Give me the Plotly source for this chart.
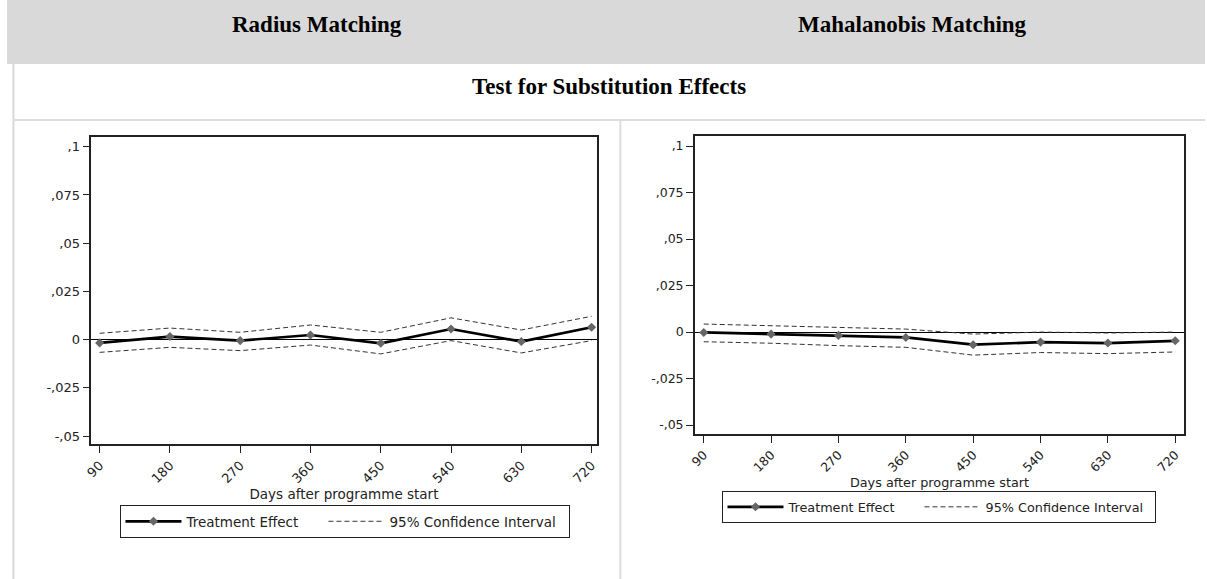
import plotly.graph_objects as go

days = [90, 180, 270, 360, 450, 540, 630, 720]
day_labels = ["90", "180", "270", "360", "450", "540", "630", "720"]

radius_te = [-0.0017, 0.0016, -0.0005, 0.0024, -0.0019, 0.0055, -0.0010, 0.0064]
radius_hi = [0.0033, 0.0060, 0.0038, 0.0076, 0.0038, 0.0113, 0.0050, 0.0121]
radius_lo = [-0.0066, -0.0040, -0.0057, -0.0028, -0.0074, -0.0005, -0.0069, -0.0005]

maha_te = [-0.0002, -0.0011, -0.0018, -0.0029, -0.0068, -0.0054, -0.0059, -0.0047]
maha_hi = [0.0043, 0.0034, 0.0027, 0.0016, -0.0011, 0.0000, -0.0005, 0.0000]
maha_lo = [-0.0052, -0.0060, -0.0073, -0.0082, -0.0124, -0.0110, -0.0116, -0.0107]

y_ticks = [0.1, 0.075, 0.05, 0.025, 0, -0.025, -0.05]
y_labels = [",1", ",075", ",05", ",025", "0", "-,025", "-,05"]

headers = ["Radius Matching", "Mahalanobis Matching"]
subtitle = "Test for Substitution Effects"
x_title = "Days after programme start"
te_name = "Treatment Effect"
ci_name = "95% Confidence Interval"

W, H = 1207, 579
SANS = "DejaVu Sans, Arial, sans-serif"
SERIF = "Liberation Serif, Times New Roman, serif"

def px(x):
    return x / W

def py(y):
    return 1 - y / H

fig = go.Figure()

panels = [
    dict(te=radius_te, hi=radius_hi, lo=radius_lo, xa="x", ya="y", leg="legend",
         box=(85, 594, 136.7, 444), xr=[79.4, 726.4], yr=[-0.0541, 0.1052],
         fs=13.5, tfs=13, lw=(132, 175), standoff=3, legxy=(341, 505)),
    dict(te=maha_te, hi=maha_hi, lo=maha_lo, xa="x2", ya="y2", leg="legend2",
         box=(693, 1186, 136, 434), xr=[78.1, 731.9], yr=[-0.0548, 0.1054],
         fs=12.8, tfs=12.5, lw=(126, 165), standoff=0, legxy=(939.5, 491)),
]

for p in panels:
    fig.add_trace(go.Scatter(x=days, y=p["te"], mode="lines+markers", name=te_name,
                             line=dict(color="black", width=2.7),
                             marker=dict(symbol="diamond", size=7, color="#666666"),
                             legendwidth=p["lw"][0],
                             xaxis=p["xa"], yaxis=p["ya"], legend=p["leg"]))
    fig.add_trace(go.Scatter(x=days, y=p["hi"], mode="lines", name=ci_name,
                             line=dict(color="#333333", width=1, dash="5px,3px"),
                             legendgroup="ci" + p["xa"], legendwidth=p["lw"][1],
                             xaxis=p["xa"], yaxis=p["ya"], legend=p["leg"]))
    fig.add_trace(go.Scatter(x=days, y=p["lo"], mode="lines", name=ci_name,
                             line=dict(color="#333333", width=1, dash="5px,3px"),
                             legendgroup="ci" + p["xa"], showlegend=False,
                             xaxis=p["xa"], yaxis=p["ya"], legend=p["leg"]))

layout = {}
for i, p in enumerate(panels):
    sfx = "" if i == 0 else "2"
    l, r, t, b = p["box"]
    axis_common = dict(showline=True, mirror=True, linecolor="#222222", linewidth=1.5,
                       showgrid=False, ticks="outside", ticklen=7, tickcolor="#222222",
                       tickfont=dict(family=SANS, size=p["tfs"], color="#222222"))
    layout["xaxis" + sfx] = dict(axis_common, domain=[px(l), px(r)], range=p["xr"],
                                 anchor="y" + sfx, tickvals=days, ticktext=day_labels,
                                 tickangle=-45, zeroline=False,
                                 title=dict(text=x_title, standoff=p["standoff"],
                                            font=dict(family=SANS, size=p["fs"], color="#222222")))
    layout["yaxis" + sfx] = dict(axis_common, domain=[py(b), py(t)], range=p["yr"],
                                 anchor="x" + sfx, tickvals=y_ticks, ticktext=y_labels,
                                 zeroline=True, zerolinecolor="black", zerolinewidth=1)
    layout["legend" + sfx] = dict(orientation="h", bordercolor="#222222", borderwidth=1,
                                  bgcolor="white",
                                  font=dict(family=SANS, size=p["fs"], color="#222222"),
                                  xanchor="center", yanchor="top", itemwidth=56,
                                  x=px(p["legxy"][0]), y=py(p["legxy"][1]))

fig.update_layout(**layout)

shapes = [
    dict(type="rect", xref="paper", yref="paper", x0=0, x1=1, y0=py(64), y1=1,
         fillcolor="#d9d9d9", line=dict(width=0), layer="below"),
    dict(type="line", xref="paper", yref="paper", x0=px(6.5), x1=px(6.5), y0=0, y1=py(64),
         line=dict(color="#d9d9d9", width=2), layer="below"),
    dict(type="line", xref="paper", yref="paper", x0=px(6), x1=1, y0=py(120), y1=py(120),
         line=dict(color="#dddddd", width=2), layer="below"),
    dict(type="line", xref="paper", yref="paper", x0=px(618), x1=px(618), y0=0, y1=py(120),
         line=dict(color="#dddddd", width=2), layer="below"),
]

hdr_font = dict(family=SERIF, size=23, color="black")
annotations = [
    dict(text="<b>" + headers[0] + "</b>", x=px(312), y=py(24), xref="paper", yref="paper",
         xanchor="center", yanchor="middle", showarrow=False, font=hdr_font),
    dict(text="<b>" + headers[1] + "</b>", x=px(912), y=py(24), xref="paper", yref="paper",
         xanchor="center", yanchor="middle", showarrow=False, font=hdr_font),
    dict(text="<b>" + subtitle + "</b>", x=px(607), y=py(86), xref="paper", yref="paper",
         xanchor="center", yanchor="middle", showarrow=False, font=hdr_font),
]

fig.update_layout(width=W, height=H, margin=dict(l=0, r=0, t=0, b=0),
                  paper_bgcolor="white", plot_bgcolor="white",
                  shapes=shapes, annotations=annotations)

fig.write_html("out.html")
